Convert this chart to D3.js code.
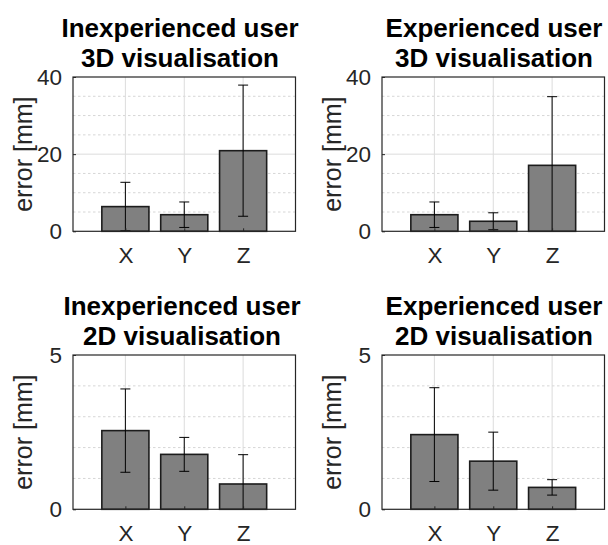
<!DOCTYPE html>
<html>
<head>
<meta charset="utf-8">
<script src="https://cdn.jsdelivr.net/npm/d3@7"></script>
<style>
  html, body { margin: 0; padding: 0; background: #fff; }
  svg { display: block; }
  text { font-family: "Liberation Sans", Arial, Helvetica, sans-serif; }
</style>
</head>
<body>
<svg id="chart" width="608" height="545"></svg>
<script>
// Positioning error per axis, mean bar height and ± error-bar half length (mm)
const categories = ["X", "Y", "Z"];

const inexp3dMean = [6.4, 4.3, 20.9];
const inexp3dErr  = [6.3, 3.3, 17.0];
const exp3dMean   = [4.3, 2.6, 17.1];
const exp3dErr    = [3.3, 2.2, 17.8];
const inexp2dMean = [2.55, 1.78, 0.82];
const inexp2dErr  = [1.35, 0.55, 0.95];
const exp2dMean   = [2.42, 1.56, 0.71];
const exp2dErr    = [1.52, 0.94, 0.25];

const titlesTop    = ["Inexperienced user", "Experienced user", "Inexperienced user", "Experienced user"];
const titlesBottom = ["3D visualisation", "3D visualisation", "2D visualisation", "2D visualisation"];

const yMax3d = 40, yTicks3d = [0, 20, 40], yMinor3d = [5, 10, 15, 25, 30, 35];
const yMax2d = 5,  yTicks2d = [0, 5],      yMinor2d = [1, 2, 3, 4];
const yLabel = "error [mm]";

const panels = [
  { mean: inexp3dMean, err: inexp3dErr, yMax: yMax3d, ticks: yTicks3d, minor: yMinor3d, x0: 73,  y0: 77,  titleCx: 180 },
  { mean: exp3dMean,   err: exp3dErr,   yMax: yMax3d, ticks: yTicks3d, minor: yMinor3d, x0: 382, y0: 77,  titleCx: 494 },
  { mean: inexp2dMean, err: inexp2dErr, yMax: yMax2d, ticks: yTicks2d, minor: yMinor2d, x0: 73,  y0: 355, titleCx: 182 },
  { mean: exp2dMean,   err: exp2dErr,   yMax: yMax2d, ticks: yTicks2d, minor: yMinor2d, x0: 382, y0: 355, titleCx: 494 }
];

const W = 222.5, H = 154.3;
const svg = d3.select("#chart");

panels.forEach((p, i) => {
  const g = svg.append("g").attr("transform", `translate(${p.x0},${p.y0})`);
  const x = d3.scaleLinear().domain([0.11, 3.89]).range([0, W]);
  const y = d3.scaleLinear().domain([0, p.yMax]).range([H, 0]);
  const pos = d => categories.indexOf(d) + 1;
  const barW = x(1.8) - x(1.0);

  const clipId = "clip" + i;
  g.append("clipPath").attr("id", clipId)
    .append("rect").attr("x", 0).attr("y", 0).attr("width", W).attr("height", H);

  // minor grid (dotted)
  g.selectAll(".minor").data(p.minor).join("line")
    .attr("x1", 0).attr("x2", W)
    .attr("y1", d => y(d)).attr("y2", d => y(d))
    .attr("stroke", "#d6d6d6").attr("stroke-width", 1)
    .attr("stroke-dasharray", "2.5,2.5");

  // major grid
  g.selectAll(".majorY").data(p.ticks.filter(t => t > 0 && t < p.yMax)).join("line")
    .attr("x1", 0).attr("x2", W)
    .attr("y1", d => y(d)).attr("y2", d => y(d))
    .attr("stroke", "#dcdcdc").attr("stroke-width", 1);
  g.selectAll(".majorX").data(categories).join("line")
    .attr("x1", d => x(pos(d))).attr("x2", d => x(pos(d)))
    .attr("y1", 0).attr("y2", H)
    .attr("stroke", "#dcdcdc").attr("stroke-width", 1);

  // bars
  g.selectAll(".bar").data(categories).join("rect")
    .attr("x", d => x(pos(d)) - barW / 2)
    .attr("width", barW)
    .attr("y", (d, k) => y(p.mean[k]))
    .attr("height", (d, k) => H - y(p.mean[k]))
    .attr("fill", "#808080")
    .attr("stroke", "#1c1c1c")
    .attr("stroke-width", 1.6);

  // error bars
  const eb = g.append("g").attr("clip-path", `url(#${clipId})`);
  categories.forEach((c, k) => {
    const cx = x(pos(c));
    const lo = p.mean[k] - p.err[k], hi = p.mean[k] + p.err[k];
    eb.append("line").attr("x1", cx).attr("x2", cx)
      .attr("y1", y(lo)).attr("y2", y(hi))
      .attr("stroke", "#000").attr("stroke-width", 1);
    [lo, hi].forEach(v => {
      eb.append("line").attr("x1", cx - 5).attr("x2", cx + 5)
        .attr("y1", y(v)).attr("y2", y(v))
        .attr("stroke", "#000").attr("stroke-width", 1);
    });
  });

  // axes box
  g.append("rect").attr("x", 0).attr("y", 0).attr("width", W).attr("height", H)
    .attr("fill", "none").attr("stroke", "#262626").attr("stroke-width", 1.2);

  // y axis (inward ticks)
  const yAxis = d3.axisLeft(y).tickValues(p.ticks).tickSizeInner(-3).tickSizeOuter(0).tickPadding(11)
    .tickFormat(d3.format("d"));
  const ya = g.append("g").call(yAxis);
  ya.select(".domain").remove();
  ya.selectAll("line").attr("stroke", "#262626");
  ya.selectAll("text").attr("font-size", 22.5).attr("fill", "#262626")
    .attr("font-family", "'Liberation Sans', Arial, sans-serif");

  // x axis (inward ticks)
  const xAxis = d3.axisBottom(x).tickValues([1, 2, 3]).tickSizeInner(-3).tickSizeOuter(0).tickPadding(16)
    .tickFormat(d => categories[d - 1]);
  const xa = g.append("g").attr("transform", `translate(0,${H})`).call(xAxis);
  xa.select(".domain").remove();
  xa.selectAll("line").attr("stroke", "#262626");
  xa.selectAll("text").attr("font-size", 22.5).attr("fill", "#262626")
    .attr("font-family", "'Liberation Sans', Arial, sans-serif");

  // y label
  g.append("text")
    .attr("transform", `translate(-41,${H / 2}) rotate(-90)`)
    .attr("text-anchor", "middle")
    .attr("font-size", 25).attr("fill", "#262626")
    .text(yLabel);

  // title (two lines)
  const tx = p.titleCx - p.x0;
  g.append("text").attr("x", tx).attr("y", -40.5)
    .attr("text-anchor", "middle").attr("font-size", 26).attr("font-weight", "bold").attr("fill", "#000")
    .text(titlesTop[i]);
  g.append("text").attr("x", tx).attr("y", -10.5)
    .attr("text-anchor", "middle").attr("font-size", 26).attr("font-weight", "bold").attr("fill", "#000")
    .text(titlesBottom[i]);
});
</script>
</body>
</html>
